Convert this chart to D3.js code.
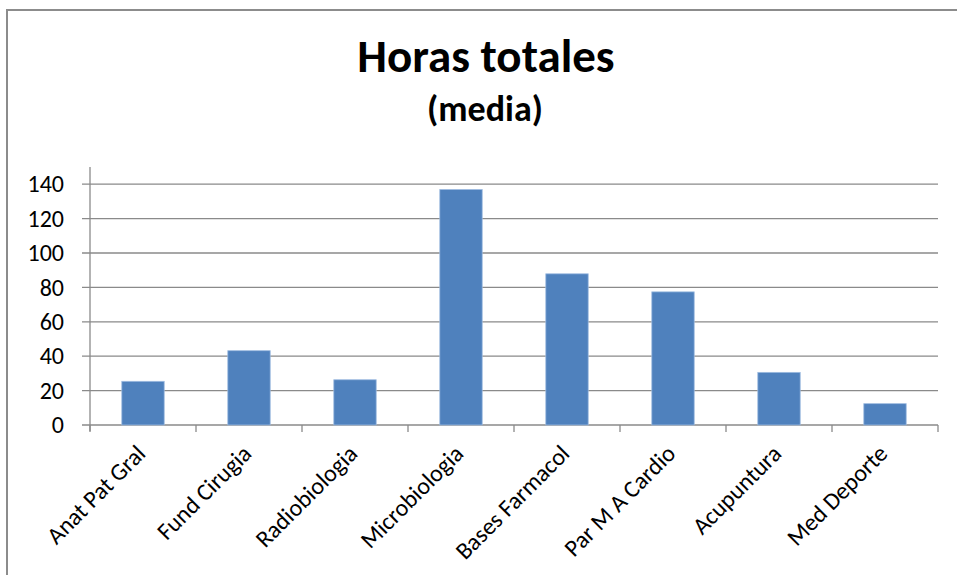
<!DOCTYPE html>
<html>
<head>
<meta charset="utf-8">
<script src="https://cdn.jsdelivr.net/npm/d3@7"></script>
<style>
  body { margin: 0; background: #fff; }
  text { font-family: Carlito, Calibri, Lato, sans-serif; }
</style>
</head>
<body>
<div id="chart"></div>
<script>
// chart data
var categories = ["Anat Pat Gral", "Fund Cirugia", "Radiobiologia", "Microbiologia",
                  "Bases Farmacol", "Par M A Cardio", "Acupuntura", "Med Deporte"];
var horas = [25.4, 43.2, 26.3, 136.9, 87.9, 77.4, 30.6, 12.4];
var yTicks = [0, 20, 40, 60, 80, 100, 120, 140];

/**
 * draws the bar chart in the given container
 */
function renderChart(container) {
  var width = 957, height = 575;
  var left = 90, right = 938, top = 167, bottom = 425;

  var svg = d3.select(container).append("svg")
    .attr("width", width).attr("height", height);

  // outer frame (only the top and left edges show)
  svg.append("rect").attr("x", 7).attr("y", 10)
    .attr("width", 1000).attr("height", 1000)
    .attr("fill", "none").attr("stroke", "#8c8c8c").attr("stroke-width", 2);

  // scales
  var x = d3.scaleBand().domain(categories).range([left, right])
    .paddingInner(0.6).paddingOuter(0.3);
  var y = d3.scaleLinear().domain([0, 150]).range([bottom, top]);

  // gridlines
  svg.append("g").selectAll("line").data(yTicks).enter().append("line")
    .attr("x1", left - 8).attr("x2", right)
    .attr("y1", function(d) { return y(d); }).attr("y2", function(d) { return y(d); })
    .attr("stroke", "#8a8a8a").attr("stroke-width", 1.3);

  // y axis line
  svg.append("line").attr("x1", left).attr("x2", left)
    .attr("y1", top).attr("y2", bottom + 6)
    .attr("stroke", "#8a8a8a").attr("stroke-width", 1.3);

  // y tick labels
  svg.append("g").selectAll("text").data(yTicks).enter().append("text")
    .attr("x", 64).attr("y", function(d) { return y(d); })
    .attr("dy", "0.34em").attr("text-anchor", "end")
    .attr("font-size", 24).attr("fill", "#000")
    .text(function(d) { return d; });

  // x category ticks
  var step = x.step();
  var xTickPos = d3.range(categories.length + 1).map(function(i) { return left + i * step; });
  svg.append("g").selectAll("line").data(xTickPos).enter().append("line")
    .attr("x1", function(d) { return d; }).attr("x2", function(d) { return d; })
    .attr("y1", bottom).attr("y2", bottom + 7)
    .attr("stroke", "#8a8a8a").attr("stroke-width", 1.3);

  // bars
  svg.append("g").selectAll("rect").data(horas).enter().append("rect")
    .attr("x", function(d, i) { return x(categories[i]); })
    .attr("width", x.bandwidth())
    .attr("y", function(d) { return y(d); })
    .attr("height", function(d) { return y(0) - y(d); })
    .attr("fill", "#4f81bd").attr("stroke", "#9dbbe0").attr("stroke-width", 0.8);

  // rotated category labels
  svg.append("g").selectAll("text").data(categories).enter().append("text")
    .attr("transform", function(d) {
      return "translate(" + (x(d) + x.bandwidth() / 2 + 4) + "," + (bottom + 30) + ") rotate(-45)";
    })
    .attr("text-anchor", "end").attr("font-size", 24).attr("fill", "#000")
    .text(function(d) { return d; });

  // title
  svg.append("text").attr("x", 486).attr("y", 72).attr("text-anchor", "middle")
    .attr("font-size", 47).attr("font-weight", "bold").text("Horas totales");
  svg.append("text").attr("x", 485).attr("y", 121).attr("text-anchor", "middle")
    .attr("font-size", 36).attr("font-weight", "bold").text("(media)");
}

renderChart("#chart");
</script>
</body>
</html>
